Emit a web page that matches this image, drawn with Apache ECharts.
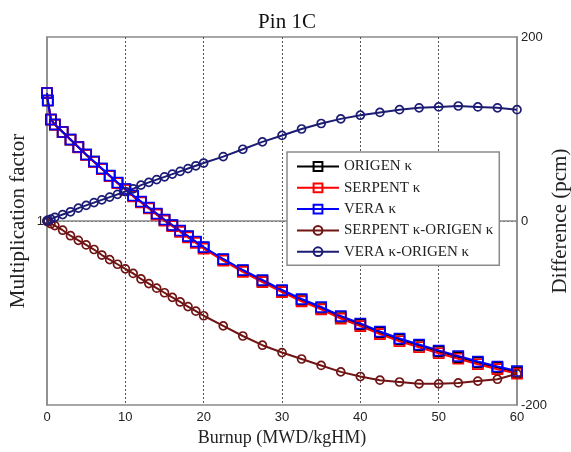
<!DOCTYPE html>
<html>
<head>
<meta charset="utf-8">
<script src="https://cdn.jsdelivr.net/npm/echarts@6/dist/echarts.min.js"></script>
<style>html,body{margin:0;padding:0;background:#fff}#c{width:571px;height:452px}</style>
</head>
<body>
<div id="c"></div>
<script>
const burnup = [0,0.1,0.5,1,2,3,4,5,6,7,8,9,10,11,12,13,14,15,16,17,18,19,20,22.5,25,27.5,30,32.5,35,37.5,40,42.5,45,47.5,50,52.5,55,57.5,60];
const origenK = [1.13913,1.13097,1.11031,1.10485,1.09667,1.08849,1.08029,1.07211,1.06447,1.05684,1.04920,1.04156,1.03446,1.02737,1.02081,1.01425,1.00770,1.00115,0.99514,0.98913,0.98313,0.97712,0.97111,0.95800,0.94596,0.93501,0.92407,0.91422,0.90546,0.89563,0.88744,0.87871,0.87107,0.86453,0.85800,0.85201,0.84604,0.84062,0.83575];
const serpentK = [1.13913,1.13096,1.11028,1.10480,1.09657,1.08833,1.08008,1.07185,1.06416,1.05647,1.04878,1.04109,1.03394,1.02680,1.02018,1.01357,1.00697,1.00037,0.99431,0.98825,0.98220,0.97614,0.97008,0.95686,0.94471,0.93366,0.92264,0.91272,0.90389,0.89399,0.88575,0.87698,0.86932,0.86276,0.85623,0.85025,0.84430,0.83890,0.83409];
const veraK = [1.13913,1.13098,1.11033,1.10489,1.09674,1.08859,1.08043,1.07228,1.06467,1.05707,1.04946,1.04185,1.03478,1.02772,1.02120,1.01467,1.00815,1.00163,0.99565,0.98967,0.98370,0.97772,0.97174,0.95870,0.94674,0.93587,0.92500,0.91522,0.90652,0.89674,0.88859,0.87989,0.87228,0.86576,0.85924,0.85326,0.84728,0.84185,0.83696];
const serpentDiff = [0,-1,-3,-5,-10,-16,-21,-26,-31,-37,-42,-47,-52,-57,-63,-68,-73,-78,-83,-88,-93,-98,-103,-114,-125,-135,-143,-150,-157,-164,-169,-173,-175,-177,-177,-176,-174,-172,-166];
const veraDiff = [0,1,2,4,7,10,14,17,20,23,26,29,32,35,39,42,45,48,51,54,57,60,63,70,78,86,93,100,106,111,115,118,121,123,124,125,124,123,121];
const xTicks = [0,10,20,30,40,50,60];
const leftTicks = [1];
const rightTicks = [-200,0,200];
const seriesNames = ['ORIGEN κ','SERPENT κ','VERA κ','SERPENT κ-ORIGEN κ','VERA κ-ORIGEN κ'];
const leftAxisTitle = 'Multiplication factor';
const rightAxisTitle = 'Difference (pcm)';

const zip = (xs, ys) => xs.map((x, i) => [x, ys[i]]);
const serif = '"Liberation Serif","Times New Roman",serif';
const sans = '"Liberation Sans",Arial,sans-serif';

function mk(name, data, color, symbol, size, yIdx) {
  return {
    name, type: 'line', data, yAxisIndex: yIdx,
    symbol, symbolSize: size, showAllSymbol: true,
    lineStyle: { color, width: 2 },
    itemStyle: { color: 'rgba(255,255,255,0)', borderColor: color, borderWidth: 1.7 },
    emphasis: { disabled: true }, animation: false
  };
}

const chart = echarts.init(document.getElementById('c'));
chart.setOption({
  backgroundColor: '#fff',
  animation: false,
  title: {
    text: 'Pin 1C', left: 282, textAlign: 'center', top: 7,
    textStyle: { fontFamily: serif, fontSize: 21, fontWeight: 'normal', color: '#111' }
  },
  graphic: [{
    type: 'text', x: 18, y: 221, rotation: Math.PI / 2, silent: true,
    style: { text: leftAxisTitle, fontFamily: serif, fontSize: 21, fill: '#222',
      align: 'center', verticalAlign: 'middle' }
  }, {
    type: 'text', x: 560, y: 221, rotation: Math.PI / 2, silent: true,
    style: { text: rightAxisTitle, fontFamily: serif, fontSize: 21, fill: '#222',
      align: 'center', verticalAlign: 'middle' }
  }],
  grid: { left: 47, right: 54, top: 37, bottom: 47, outerBoundsMode: 'none', containLabel: false,
    show: true, borderColor: '#8a8a8a', borderWidth: 1.5, backgroundColor: 'transparent' },
  legend: {
    orient: 'vertical', left: 287, top: 152,
    data: seriesNames,
    itemWidth: 42, itemHeight: 11, itemGap: 6.3,
    padding: [7, 6, 6, 9],
    backgroundColor: '#fff', borderColor: '#8a8a8a', borderWidth: 1.5,
    textStyle: { fontFamily: serif, fontSize: 15, color: '#222' }
  },
  xAxis: {
    type: 'value', min: 0, max: 60, interval: 10,
    name: 'Burnup (MWD/kgHM)', nameLocation: 'middle', nameGap: 24,
    nameTextStyle: { fontFamily: serif, fontSize: 18, color: '#222' },
    axisLine: { lineStyle: { color: '#8a8a8a', width: 1.5 } },
    axisTick: { show: false },
    axisLabel: { fontFamily: sans, fontSize: 13, color: '#222', margin: 6,
      formatter: v => xTicks.includes(v) ? String(v) : '' },
    splitLine: { show: true, showMinLine: false, showMaxLine: false, lineStyle: { color: '#555', type: [2, 2], width: 1 } }
  },
  yAxis: [
    {
      type: 'value', min: 0.8, max: 1.2, interval: 0.2, position: 'left',
      axisLine: { show: true, lineStyle: { color: '#8a8a8a', width: 1.5 } },
      axisTick: { show: false },
      axisLabel: { fontFamily: sans, fontSize: 13, color: '#222', margin: 3,
        formatter: v => leftTicks.some(t => Math.abs(t - v) < 1e-9) ? '1' : '' },
      splitLine: { show: false }
    },
    {
      type: 'value', min: -200, max: 200, interval: 200, position: 'right',
      axisLine: { show: true, lineStyle: { color: '#8a8a8a', width: 1.5 } },
      axisTick: { show: false },
      axisLabel: { fontFamily: sans, fontSize: 13, color: '#222', margin: 4,
        formatter: v => rightTicks.includes(v) ? String(v) : '' },
      splitLine: { show: true, showMinLine: false, showMaxLine: false, lineStyle: { color: '#555', type: [2, 2], width: 1 } }
    }
  ],
  series: [
    mk(seriesNames[0], zip(burnup, origenK), '#000000', 'rect', 10, 0),
    mk(seriesNames[1], zip(burnup, serpentK), '#ff0000', 'rect', 10, 0),
    mk(seriesNames[2], zip(burnup, veraK), '#0000ff', 'rect', 10, 0),
    mk(seriesNames[3], zip(burnup, serpentDiff), '#701414', 'circle', 8, 1),
    mk(seriesNames[4], zip(burnup, veraDiff), '#1c1c74', 'circle', 8, 1)
  ]
});
</script>
</body>
</html>
